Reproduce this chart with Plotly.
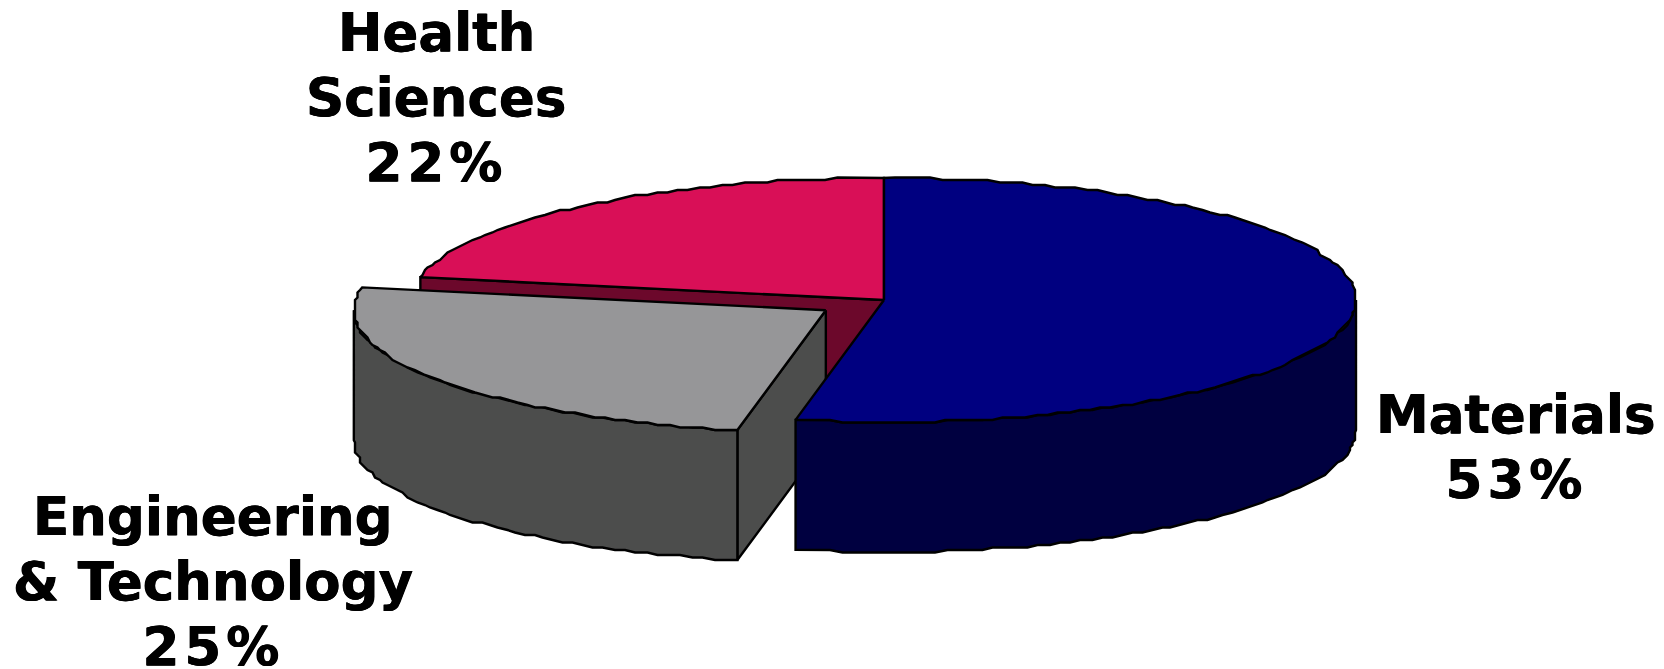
import numpy as np
import plotly.graph_objects as go

# --- data ---
category_lines = [["Materials"], ["Engineering", "&amp; Technology"], ["Health", "Sciences"]]
shares = [53, 25, 22]
explode = [0.0, 0.149, 0.0]
top_colors = ["#000080", "#969698", "#D90F57"]
side_colors = ["#000040", "#4C4D4C", "#6C082B"]

# --- projection of the tilted pie onto the page (page pixels) ---
W, H = 1664, 669
CX, CY, RX, RY, DEPTH = 884, 300, 472, 122, 130
GRID = 2.5  # the source's curves are slightly wavy
DEG_STEP = 1.4


def start_end():
    edges = np.cumsum([0] + shares) / sum(shares) * 360.0
    return list(zip(edges[:-1], edges[1:]))


def offset(i):
    a0, a1 = start_end()[i]
    mid = np.radians((a0 + a1) / 2)
    return explode[i] * RX * np.sin(mid), -explode[i] * RY * np.cos(mid)


def rim(i, a0, a1):
    dx, dy = offset(i)
    n = max(2, int(abs(a1 - a0) / DEG_STEP))
    t = np.radians(np.linspace(a0, a1, n))
    x = np.round((CX + dx + RX * np.sin(t)) / GRID) * GRID
    y = np.round((CY + dy - RY * np.cos(t)) / GRID) * GRID
    # keep the exact corners
    x[0], y[0] = CX + dx + RX * np.sin(t[0]), CY + dy - RY * np.cos(t[0])
    x[-1], y[-1] = CX + dx + RX * np.sin(t[-1]), CY + dy - RY * np.cos(t[-1])
    return x, y


def apex(i):
    dx, dy = offset(i)
    return CX + dx, CY + dy


def top_face(i):
    a0, a1 = start_end()[i]
    x, y = rim(i, a0, a1)
    ax, ay = apex(i)
    return np.r_[ax, x, ax], np.r_[ay, y, ay]


def wall(i, a0, a1):
    x, y = rim(i, a0, a1)
    return np.r_[x, x[::-1], x[0]], np.r_[y, y[::-1] + DEPTH, y[0]]


def radial_face(i, angle):
    x, y = rim(i, angle, angle)
    ax, ay = apex(i)
    ex, ey = x[0], y[0]
    return (np.array([ax, ex, ex, ax, ax]),
            np.array([ay, ey, ey + DEPTH, ay + DEPTH, ay]))


spans = start_end()
faces = [
    (radial_face(2, spans[2][0]), side_colors[2]),
    (radial_face(1, spans[1][0]), side_colors[1]),
    (wall(1, spans[1][0], 270), side_colors[1]),
    (top_face(2), top_colors[2]),
    (top_face(1), top_colors[1]),
    (wall(0, 90, spans[0][1]), side_colors[0]),
    (top_face(0), top_colors[0]),
]

fig = go.Figure()
for (xs, ys), colour in faces:
    fig.add_trace(go.Scatter(
        x=xs, y=ys, mode="lines", fill="toself", fillcolor=colour,
        line=dict(color="#000000", width=2.4), hoverinfo="skip", showlegend=False,
    ))

LINE_GAP = 65
label_centre = [(1516, 447), (213, 581), (436, 97)]
HEAVY = "0.4px 0 0 #000, -0.4px 0 0 #000"
for lines, share, (lx, ly) in zip(category_lines, shares, label_centre):
    rows = lines + [f"{share}%"]
    for k, row in enumerate(rows):
        fig.add_annotation(
            x=lx, y=ly + (k - (len(rows) - 1) / 2) * LINE_GAP, text=row, showarrow=False,
            xanchor="center", yanchor="middle", align="center",
            font=dict(family="DejaVu Sans", size=53, color="#000000", weight="bold",
                      shadow=HEAVY),
        )

fig.update_layout(
    width=W, height=H, margin=dict(l=0, r=0, t=0, b=0),
    paper_bgcolor="#FFFFFF", plot_bgcolor="#FFFFFF",
    xaxis=dict(range=[0, W], visible=False, fixedrange=True),
    yaxis=dict(range=[H, 0], visible=False, fixedrange=True),
)
fig.write_html(
    "out.html", config={"displayModeBar": False},
    post_script=(
        "document.body.style.margin='0';document.body.style.overflow='hidden';"
        "document.querySelectorAll('.annotation-text').forEach(function(t){"
        "if(t.textContent.endsWith('%')){t.style.letterSpacing='5px';}});"
    ),
)
